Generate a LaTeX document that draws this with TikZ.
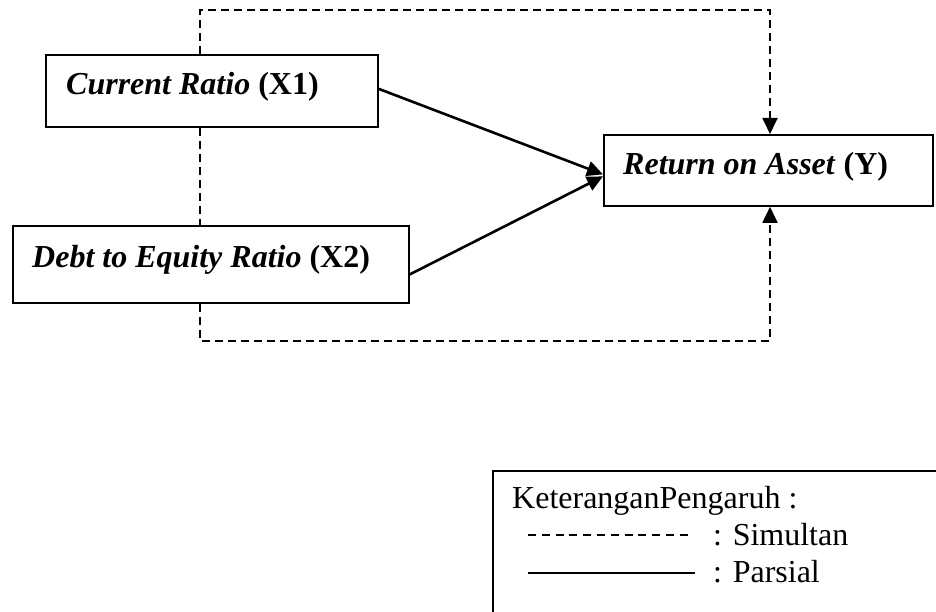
\documentclass[tikz,border=0pt]{standalone}
\usepackage{fontspec}
\setmainfont{Liberation Serif}
\usetikzlibrary{arrows.meta}
\begin{document}
\begin{tikzpicture}[x=1pt,y=-1pt,
  box/.style={draw,line width=1.8pt,fill=white,rectangle,inner sep=0pt,anchor=north west},
  lbl/.style={anchor=base west,inner sep=0pt,font=\fontsize{32}{38}\selectfont},
  sim/.style={line width=1.8pt,dash pattern=on 8pt off 5pt},
  par/.style={line width=2.6pt},
  tip/.style={-{Triangle[length=16pt,width=15pt]}}
]
\useasboundingbox (0,0) rectangle (936,612);
% boxes
\node[box,minimum width=332pt,minimum height=72pt] (x1) at (45,54) {};
\node[box,minimum width=396pt,minimum height=77pt] (x2) at (12,225) {};
\node[box,minimum width=329pt,minimum height=71pt] (ret) at (603,134) {};
\node[lbl] (tx1) at (66,95) {\textbf{\textit{Current Ratio}} \textbf{(X1)}};
\node[lbl] (tx2) at (32,267) {\textbf{\textit{Debt to Equity Ratio}} \textbf{(X2)}};
\node[lbl] (tret) at (623,175) {\textbf{\textit{Return on Asset}} \textbf{(Y)}};
% dashed (simultaneous) connectors
\coordinate (tl) at (200,10);
\coordinate (tr) at (770,10);
\coordinate (bl) at (200,341);
\coordinate (br) at (770,341);
\draw[sim,tip] (x1.north -| tl) -- (tl) -- (tr) -- (ret.north -| tr);
\draw[sim] (x1.south -| tl) -- (x2.north -| tl);
\draw[sim,tip] (x2.south -| bl) -- (bl) -- (br) -- (ret.south -| br);
% solid (partial) connectors
\draw[par,tip] ([yshift=2pt]x1.east) -- ([yshift=-4pt]ret.west);
\draw[par,tip] ([yshift=-10pt]x2.east) -- ([yshift=-6pt]ret.west);
% legend
\node[draw,line width=1.8pt,anchor=north west,minimum width=480pt,minimum height=170pt,inner sep=0pt] (leg) at (492,470) {};
\node[lbl] (lt) at (512,508) {KeteranganPengaruh :};
\node[lbl] (ls) at (713,545) {: Simultan};
\node[lbl] (lp) at (713,582) {: Parsial};
\coordinate (da) at (528,535);
\coordinate (db) at (692,535);
\coordinate (sa) at (528,573);
\coordinate (sb) at (695,573);
\draw[line width=1.4pt,dash pattern=on 8pt off 5.8pt] (da) -- (db);
\draw[line width=2.4pt] (sa) -- (sb);
\end{tikzpicture}
\end{document}
